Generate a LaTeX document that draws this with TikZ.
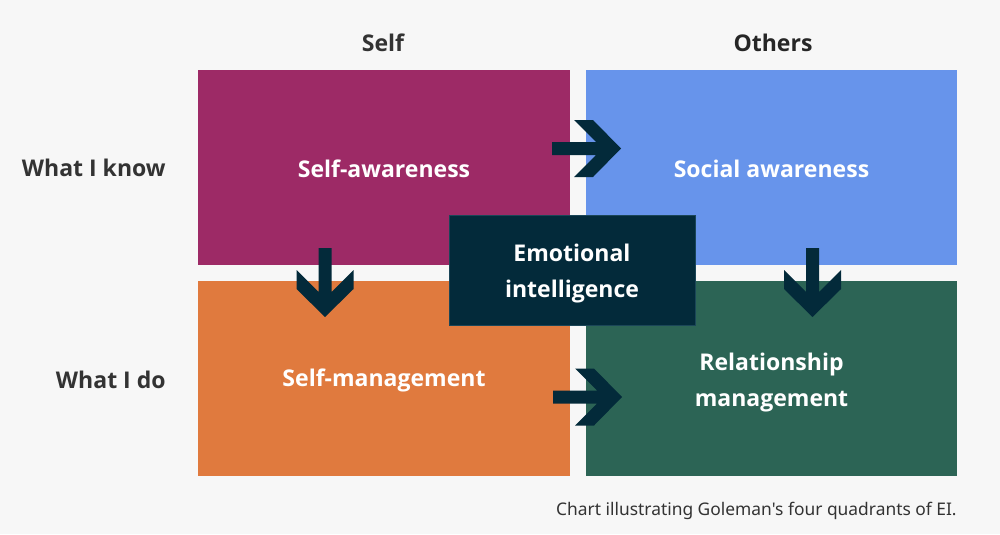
\documentclass[tikz,border=0pt]{standalone}
\usepackage{fontspec}
\setmainfont{Noto Sans}[Ligatures=TeXOff]
\newfontfamily\heavy{Open Sans}[Ligatures=TeXOff]
\definecolor{bgc}{HTML}{F7F7F7}
\definecolor{qa}{HTML}{9D2A66}
\definecolor{qb}{HTML}{6794EB}
\definecolor{qc}{HTML}{E07A3E}
\definecolor{qd}{HTML}{2C6455}
\definecolor{navy}{HTML}{032A3A}
\definecolor{navyedge}{HTML}{1B4658}
\definecolor{labc}{HTML}{333333}
\tikzset{
  quad/.style={rectangle, inner sep=0pt, minimum width=7.44cm, minimum height=3.9cm},
  qtext/.style={inner sep=0pt, text=white, font=\fontsize{13.1}{20}\selectfont\heavy\bfseries, align=center},
  centerbox/.style={rectangle, inner sep=0pt, minimum width=4.92cm, minimum height=2.2cm,
    fill=navy, draw=navyedge, line width=0.4pt},
  rowlab/.style={anchor=east, inner sep=0pt, text=labc, font=\fontsize{13.1}{15}\selectfont\heavy\bfseries},
  collab/.style={inner sep=0pt, text=labc, font=\fontsize{13.1}{15}\selectfont\heavy\bfseries},
  capt/.style={anchor=east, inner sep=0pt, text=labc, font=\fontsize{9.9}{12}\selectfont},
  rarrow/.pic={\fill[navy] (-69,6.5) -- (-25,6.5) -- (-47,28.5) -- (-28,28.5) -- (0,0)
      -- (-28,-28.5) -- (-47,-28.5) -- (-25,-6.5) -- (-69,-6.5) -- cycle;},
  darrow/.pic={\fill[navy] (6.5,-69) -- (6.5,-25) -- (28.5,-47) -- (28.5,-28) -- (0,0)
      -- (-28.5,-28) -- (-28.5,-47) -- (-6.5,-25) -- (-6.5,-69) -- cycle;}
}
\begin{document}
\begin{tikzpicture}[x=0.02cm, y=-0.02cm]
\fill[bgc] (0,0) rectangle (1000,534);
\useasboundingbox (0,0) rectangle (1000,534);
\node[quad, fill=qa] (sa) at (384,167.5) {};
\node[quad, fill=qb] (so) at (771.5,167.5) {};
\node[quad, fill=qc] (sm) at (384,378.5) {};
\node[quad, fill=qd] (rm) at (771.5,378.5) {};
\node[qtext, yshift=-0.03cm] (sat) at (sa) {Self-awareness};
\node[qtext, yshift=-0.03cm] (sot) at (so) {Social awareness};
\node[qtext, yshift=-0.03cm] (smt) at (sm) {Self-management};
\node[qtext, yshift=-0.08cm] (rmt) at (rm) {Relationship\\management};
\node[centerbox] (ei) at (572,270) {};
\node[qtext, yshift=-0.07cm] (eit) at (ei) {Emotional\\intelligence};
\node[collab] (hself) at (383,43) {Self};
\node[collab, text=black!85] (hoth) at (773,43) {Others};
\node[rowlab] (rknow) at (166,168) {What I know};
\node[rowlab] (rdo) at (166,380) {What I do};
\node[capt] (cap) at (957,511) {Chart illustrating Goleman's four quadrants of EI.};
\pic at (621,148.5) {rarrow};
\pic at (622,397) {rarrow};
\pic at (325,317) {darrow};
\pic at (812.5,317) {darrow};
\end{tikzpicture}
\end{document}
